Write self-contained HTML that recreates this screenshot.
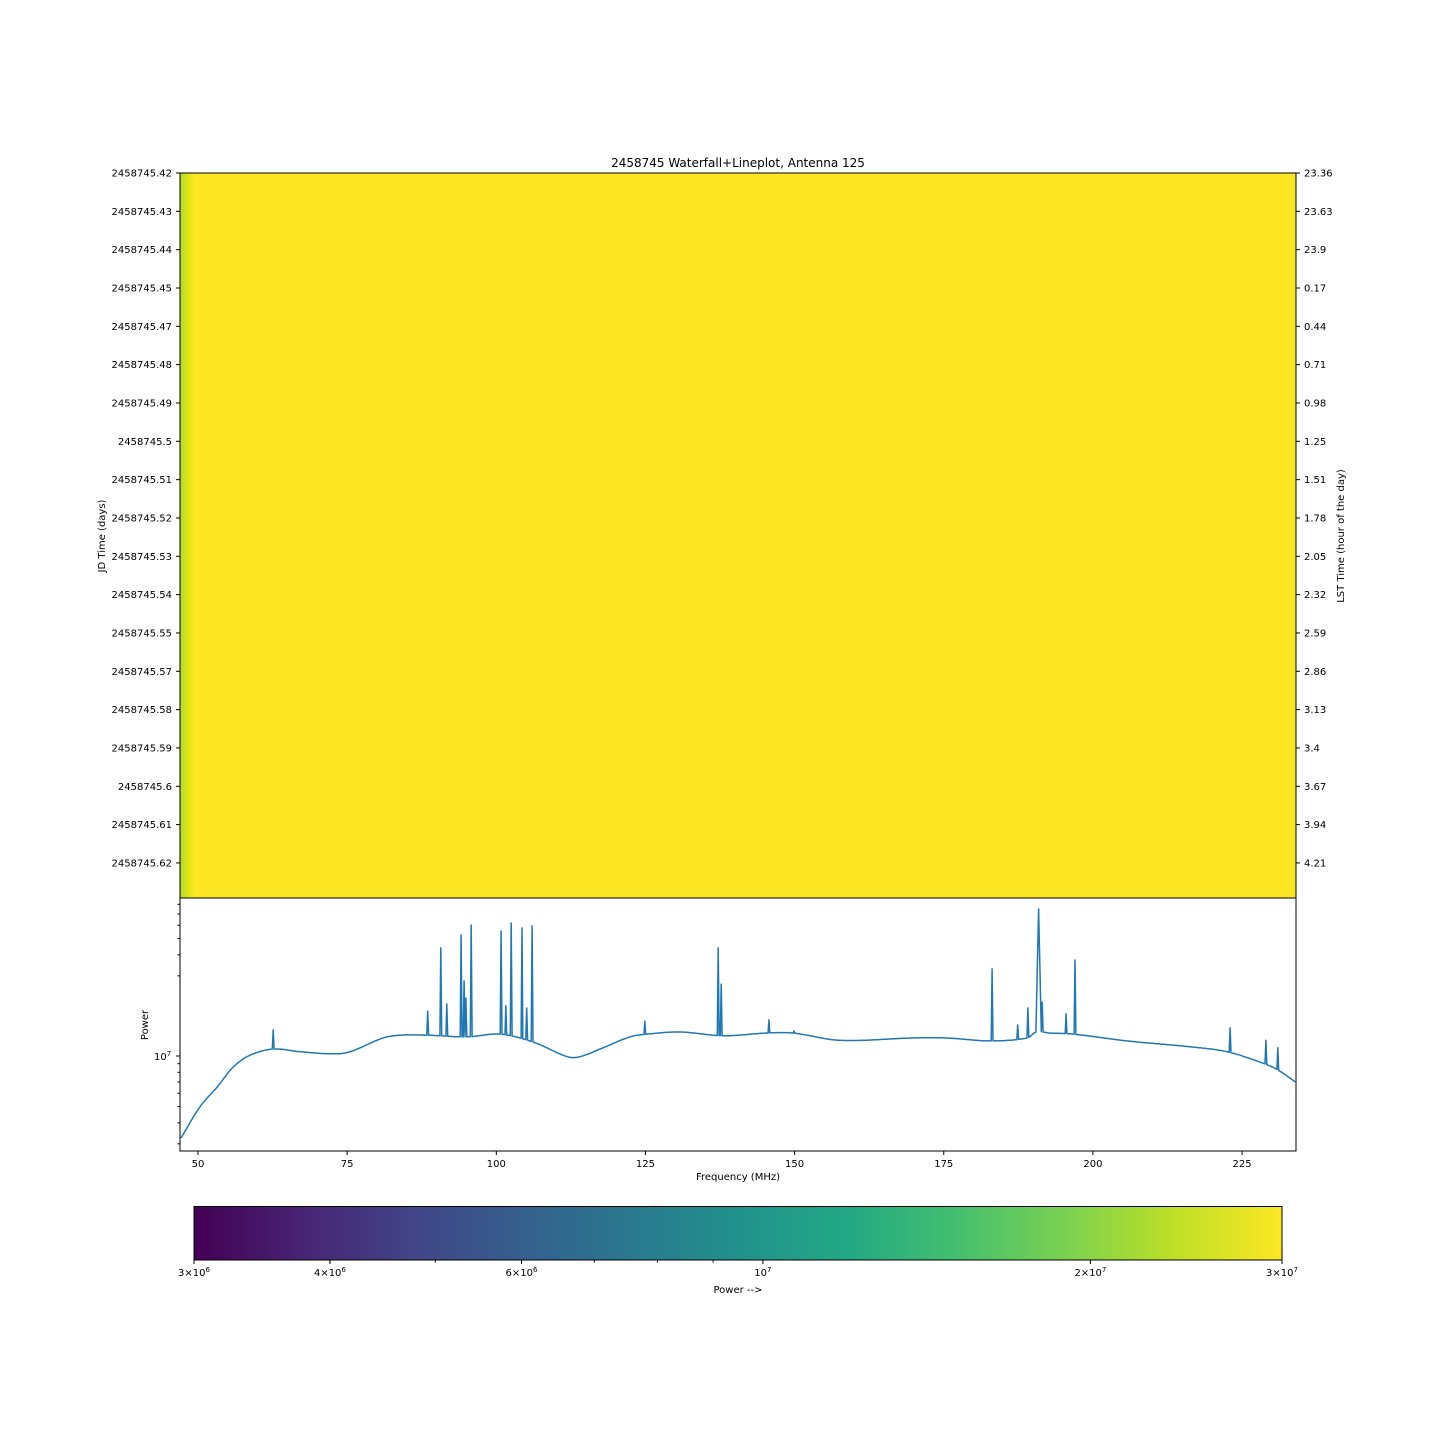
<!DOCTYPE html>
<html><head><meta charset="utf-8"><style>
body{margin:0;background:#fff;width:1440px;height:1440px;overflow:hidden}
svg text{font-family:"DejaVu Sans","Liberation Sans",sans-serif;fill:#000}
</style></head><body>
<svg id="fig" width="1440" height="1440" viewBox="0 0 1440 1440" xmlns="http://www.w3.org/2000/svg">
<defs>
<linearGradient id="wfEdge" x1="0" x2="1" y1="0" y2="0">
<stop offset="0" stop-color="#addc30"/><stop offset="0.45" stop-color="#dde318"/><stop offset="1" stop-color="#fde725"/>
</linearGradient>
<linearGradient id="viridis" x1="0" x2="1" y1="0" y2="0">
<stop offset="0" stop-color="#440154"/><stop offset="0.1" stop-color="#482475"/><stop offset="0.2" stop-color="#414487"/>
<stop offset="0.3" stop-color="#355f8d"/><stop offset="0.4" stop-color="#2a788e"/><stop offset="0.5" stop-color="#21918c"/>
<stop offset="0.6" stop-color="#22a884"/><stop offset="0.7" stop-color="#44bf70"/><stop offset="0.8" stop-color="#7ad151"/>
<stop offset="0.9" stop-color="#bddf26"/><stop offset="1" stop-color="#fde725"/>
</linearGradient>
</defs>
<text x="738" y="167" font-size="12" text-anchor="middle">2458745 Waterfall+Lineplot, Antenna 125</text>
<g>
<rect x="180" y="173" width="1116" height="725" fill="#fde725"/>
<rect x="180" y="173" width="16" height="725" fill="url(#wfEdge)"/>
<rect x="180" y="173" width="1116" height="725" fill="none" stroke="#000" stroke-width="1"/>
</g>
<g id="wfTicks"></g>
<text transform="translate(105,536) rotate(-90)" font-size="10" text-anchor="middle">JD Time (days)</text>
<text transform="translate(1344,536) rotate(-90)" font-size="10" text-anchor="middle">LST Time (hour of the day)</text>
<g>
<rect x="180" y="898" width="1116" height="253" fill="none" stroke="#000" stroke-width="1"/>
</g>
<g id="lineG"></g>
<text transform="translate(148,1025) rotate(-90)" font-size="10" text-anchor="middle">Power</text>
<text x="738" y="1180" font-size="10" text-anchor="middle">Frequency (MHz)</text>
<g>
<rect x="194" y="1206.5" width="1088" height="53.5" fill="url(#viridis)" stroke="#000" stroke-width="1"/>
</g>
<g id="cbG"></g>
<text x="738" y="1293" font-size="10" text-anchor="middle">Power --&gt;</text>
</svg>
<script>
const jdLabels=["2458745.42","2458745.43","2458745.44","2458745.45","2458745.47","2458745.48","2458745.49","2458745.5","2458745.51","2458745.52","2458745.53","2458745.54","2458745.55","2458745.57","2458745.58","2458745.59","2458745.6","2458745.61","2458745.62"];
const lstLabels=["23.36","23.63","23.9","0.17","0.44","0.71","0.98","1.25","1.51","1.78","2.05","2.32","2.59","2.86","3.13","3.4","3.67","3.94","4.21"];
const freqTicks=[50,75,100,125,150,175,200,225];
const baseFreq=[47.15,50.3,53.2,55.9,58.7,62.6,67.1,72.6,75.5,81.0,83.9,88.4,95.1,100.6,106.2,111.9,114.0,117.4,122.4,125.3,130.8,138.0,145.4,149.7,157.6,169.8,175.5,182.8,189.0,190.5,192.8,196.7,205.7,216.8,222.5,228.0,230.9,234.2];
const basePowerM=[3.25,4.97,6.53,8.60,10.1,11.0,10.6,10.3,10.6,12.8,13.3,13.3,13.0,13.5,12.1,9.9,9.9,11.0,13.0,13.5,13.9,13.2,13.7,13.7,12.4,12.8,12.8,12.3,12.8,13.9,13.7,13.5,12.3,11.3,10.6,9.2,8.3,6.9];
const spikeFreq=[62.6,88.5,90.7,91.7,94.1,94.6,94.9,95.8,100.8,101.6,102.5,104.3,105.1,106.0,124.9,137.2,137.7,145.7,149.9,183.1,187.4,189.1,190.9,191.5,195.5,197.0,223.0,229.0,231.0];
const spikePowerM=[14.3,18.5,44.0,20.4,52.5,28.0,22.1,60.2,55.5,19.9,61.9,57.8,19.3,59.4,16.1,44.0,26.8,16.4,14.1,33.0,15.3,19.3,75.0,20.9,17.8,37.3,14.7,12.4,11.2];
const cbTicks=[3e6,4e6,6e6,1e7,2e7,3e7];
const cbTickLabels=[["3","6"],["4","6"],["6","6"],[null,"7"],["2","7"],["3","7"]];

const NS="http://www.w3.org/2000/svg";
function mk(tag,attrs,parent,txt){const e=document.createElementNS(NS,tag);for(const k in attrs)e.setAttribute(k,attrs[k]);if(txt!=null)e.textContent=txt;parent.appendChild(e);return e;}
const xF=f=>198+(f-50)*5.966;
const yP=p=>1056-168*Math.log10(p/1e7);
const xC=v=>194+1088*Math.log10(v/3e6);
const yRow=i=>173+i*38.33;

const wt=document.getElementById('wfTicks');
jdLabels.forEach((l,i)=>{
  const y=yRow(i);
  const t=mk('line',{x1:176,x2:180,y1:y,y2:y,stroke:'#000'},wt);
  
  
  const tx=mk('text',{x:172,y:y+3.5,'font-size':10,'text-anchor':'end'},wt,l);
  
  
});
lstLabels.forEach((l,i)=>{
  const y=yRow(i);
  const t=mk('line',{x1:1296,x2:1300,y1:y,y2:y,stroke:'#000'},wt);
  
  
  const tx=mk('text',{x:1304,y:y+3.5,'font-size':10},wt,l);
  
  
});

const lg=document.getElementById('lineG');
// smooth (Catmull-Rom in log space) rendering of baseline
function baseAt(f){
  const n=baseFreq.length;
  if(f<=baseFreq[0])return basePowerM[0];
  if(f>=baseFreq[n-1])return basePowerM[n-1];
  let i=0;while(i<n-2&&f>baseFreq[i+1])i++;
  const L=k=>Math.log10(basePowerM[Math.max(0,Math.min(n-1,k))]);
  const X=k=>baseFreq[Math.max(0,Math.min(n-1,k))];
  const t=(f-X(i))/(X(i+1)-X(i));
  const p0=L(i-1),p1=L(i),p2=L(i+1),p3=L(i+2);
  const h=X(i+1)-X(i);
  const m1=(p2-p0)/(X(i+1)-X(i-1)||1)*h, m2=(p3-p1)/(X(i+2)-X(i)||1)*h;
  const t2=t*t,t3=t2*t;
  const v=(2*t3-3*t2+1)*p1+(t3-2*t2+t)*m1+(-2*t3+3*t2)*p2+(t3-t2)*m2;
  return Math.pow(10,v);
}
let pts=[];
const spikeW=spikeFreq.map(f=>(f>190&&f<191.2)?0.45:0.15);
for(let f=baseFreq[0];f<=baseFreq[baseFreq.length-1];f+=0.25){
  if(spikeFreq.some((s,i)=>Math.abs(f-s)<spikeW[i]))continue;
  pts.push([f,baseAt(f)]);
}
spikeFreq.forEach((f,i)=>{
  const w=spikeW[i];
  pts.push([f-w,baseAt(f-w)]);pts.push([f,spikePowerM[i]]);pts.push([f+w,baseAt(f+w)]);
});
pts.sort((a,b)=>a[0]-b[0]);
const clip=mk('clipPath',{id:'lpClip'},lg);
mk('rect',{x:180,y:898,width:1116,height:253},clip);
const d=pts.map((p,i)=>(i?'L':'M')+xF(p[0]).toFixed(1)+','+yP(p[1]*1e6).toFixed(1)).join('');
const line=mk('path',{d:d,fill:'none',stroke:'#1f77b4','stroke-width':1.5,'stroke-linejoin':'round','clip-path':'url(#lpClip)'},lg);


freqTicks.forEach(f=>{
  const x=xF(f);
  const t=mk('line',{x1:x,x2:x,y1:1151,y2:1155,stroke:'#000'},lg);
  
  
  const tx=mk('text',{x:x,y:1167,'font-size':10,'text-anchor':'middle'},lg,String(f));
  
  
});
for(let m=3;m<=9;m++){
  [1e6,1e7].forEach(dec=>{
    const v=m*dec;const y=yP(v);
    if(y>=898&&y<=1151){
      const t=mk('line',{x1:177.5,x2:180,y1:y,y2:y,stroke:'#000'},lg);
      
      
    }
  });
}
const yt=mk('line',{x1:176,x2:180,y1:yP(1e7),y2:yP(1e7),stroke:'#000'},lg);


const ytl=mk('text',{x:154,y:yP(1e7)+4,'font-size':10},lg,'10');


mk('tspan',{'font-size':7,dy:-4},ytl,'7');

const cg=document.getElementById('cbG');
for(let m=3;m<=9;m++){
  [1e6,1e7].forEach(dec=>{
    const v=m*dec;if(v<3e6||v>3e7)return;const x=xC(v);
    const t=mk('line',{x1:x,x2:x,y1:1260,y2:1262.5,stroke:'#000'},cg);
    
    
  });
}
cbTicks.forEach((v,i)=>{
  const x=xC(v);
  const t=mk('line',{x1:x,x2:x,y1:1260,y2:1264,stroke:'#000'},cg);
  
  
  const [mant,ex]=cbTickLabels[i];
  const tx=mk('text',{x:x,y:1276,'font-size':10,'text-anchor':'middle'},cg,mant?mant+'\u00d710':'10');
  
  
  mk('tspan',{'font-size':7,dy:-4},tx,ex);
});
</script>
</body></html>
